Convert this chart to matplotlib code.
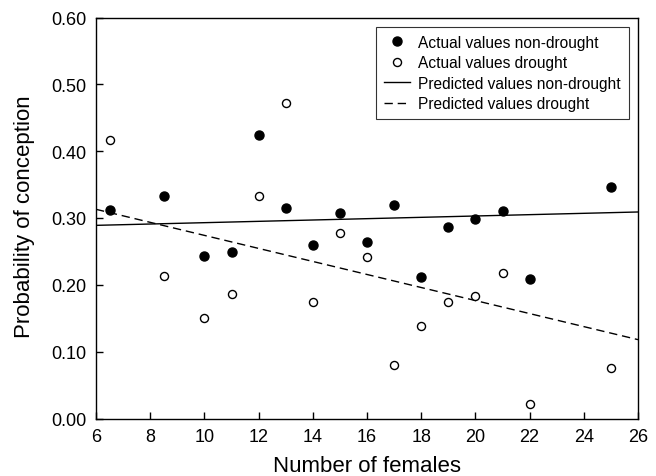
import matplotlib
matplotlib.use("Agg")
import matplotlib.pyplot as plt
from matplotlib.ticker import FormatStrFormatter

plt.rcParams['font.family'] = ['Liberation Sans', 'DejaVu Sans']

# Datos
females = [6.5, 8.5, 10, 11, 12, 13, 14, 15, 16, 17, 18, 19, 20, 21, 22, 25]
non_drought = [0.312, 0.333, 0.243, 0.249, 0.424, 0.315, 0.259, 0.308,
               0.264, 0.319, 0.212, 0.287, 0.298, 0.311, 0.208, 0.347]
drought = [0.416, 0.213, 0.151, 0.187, 0.333, 0.472, 0.174, 0.278,
           0.242, 0.080, 0.138, 0.175, 0.183, 0.218, 0.022, 0.075]

# Rectas predichas (extremos)
pred_x = [6, 26]
pred_non_drought = [0.289, 0.309]
pred_drought = [0.313, 0.118]

fig = plt.figure(figsize=(6.56, 4.77), dpi=100)
ax = fig.add_axes([96 / 656, 1 - 419.5 / 477, (638 - 96) / 656, (419.5 - 18.5) / 477])

ax.plot(females, non_drought, 'o', color='black', markersize=6.5,
        label='Actual values non-drought', zorder=3)
ax.plot(females, drought, 'o', markerfacecolor='white', markeredgecolor='black',
        markeredgewidth=1.0, markersize=5.8, label='Actual values drought', zorder=3)
ax.plot(pred_x, pred_non_drought, '-', color='black', linewidth=1.0,
        label='Predicted values non-drought')
ax.plot(pred_x, pred_drought, '--', color='black', linewidth=1.0,
        dashes=(6, 3.5), label='Predicted values drought')

ax.set_xlim(6, 26)
ax.set_ylim(0, 0.6)
ax.set_xticks(range(6, 27, 2))
ax.set_yticks([0, 0.1, 0.2, 0.3, 0.4, 0.5, 0.6])
ax.yaxis.set_major_formatter(FormatStrFormatter('%.2f'))
ax.tick_params(direction='in', length=5, width=1, labelsize=13, top=False, right=False)
ax.tick_params(axis='x', pad=7)
ax.tick_params(axis='y', pad=7)
for s in ax.spines.values():
    s.set_linewidth(1.0)

ax.set_xlabel('Number of females', fontsize=16)
ax.set_ylabel('Probability of conception', fontsize=16)
ax.xaxis.set_label_coords(0.5, -0.092)
ax.yaxis.set_label_coords(-0.112, 0.505)

leg = ax.legend(loc='upper right', fontsize=11.2, frameon=True, fancybox=False,
                edgecolor='black', borderaxespad=0.6, handlelength=1.7,
                handletextpad=0.5, labelspacing=0.35, borderpad=0.5)
leg.get_frame().set_linewidth(0.8)

plt.savefig('out.png', dpi=100)
